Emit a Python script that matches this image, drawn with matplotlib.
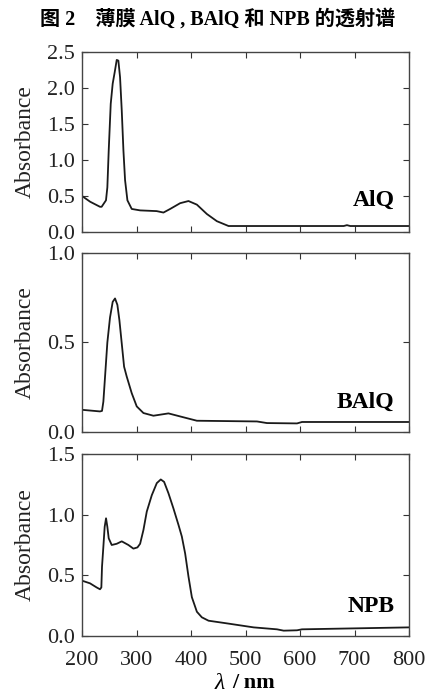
import matplotlib
matplotlib.use("Agg")
import matplotlib.pyplot as plt

# Absorbance spectra of AlQ, BAlQ and NPB thin films (wavelength in nm)
alq_wl = [200, 215, 233, 236, 244, 246.5, 249, 252.7, 256.3, 260, 263.7, 266.7,
          269.8, 272.9, 276, 279, 283.3, 291.2, 306.6, 337, 349.4, 361.7, 380,
          395.3, 410.7, 429, 447.4, 468.8, 600, 680, 686, 692, 800]
alq_abs = [0.50, 0.42, 0.35, 0.35, 0.44, 0.62, 1.13, 1.78, 2.06, 2.22, 2.39, 2.38,
           2.15, 1.69, 1.13, 0.72, 0.44, 0.32, 0.30, 0.29, 0.27, 0.32, 0.40,
           0.43, 0.38, 0.25, 0.15, 0.083, 0.083, 0.083, 0.095, 0.083, 0.083]

balq_wl = [200, 233, 236.7, 239.2, 242.3, 246.5, 251.4, 256.3, 260.6, 264.9, 268.6,
           272.9, 277.2, 282, 291.2, 300.4, 312.7, 331, 358.6, 380, 410.7, 520.9,
           539.2, 594.4, 603.5, 800]
balq_abs = [0.124, 0.115, 0.118, 0.17, 0.31, 0.50, 0.64, 0.727, 0.746, 0.71, 0.625,
            0.495, 0.365, 0.31, 0.217, 0.143, 0.106, 0.091, 0.104, 0.087, 0.063,
            0.059, 0.05, 0.048, 0.056, 0.056]

npb_wl = [200, 214.7, 226.9, 233, 235.5, 236.7, 239.2, 241.6, 244.1, 246.5, 249,
          254.5, 263.7, 272.9, 285.1, 294.3, 301.7, 306.6, 312.7, 318.8, 328, 337.2,
          344.5, 350.6, 358.6, 367.8, 377, 383.1, 389.2, 395.3, 401.5, 410.7, 419.8,
          432.1, 465.8, 514.8, 557.6, 569.9, 594.4, 603.5, 800]
npb_abs = [0.456, 0.434, 0.40, 0.385, 0.40, 0.57, 0.736, 0.90, 0.97, 0.90, 0.805,
           0.75, 0.76, 0.78, 0.75, 0.72, 0.73, 0.76, 0.874, 1.025, 1.16, 1.26,
           1.29, 1.27, 1.176, 1.05, 0.915, 0.82, 0.68, 0.49, 0.32, 0.20, 0.154,
           0.126, 0.104, 0.071, 0.055, 0.044, 0.047, 0.055, 0.071]

names = ["AlQ", "BAlQ", "NPB"]
ylims = [(0, 2.5), (0, 1.0), (0, 1.5)]
yticks = [[0.0, 0.5, 1.0, 1.5, 2.0, 2.5], [0.0, 0.5, 1.0], [0.0, 0.5, 1.0, 1.5]]
xticks = [200, 300, 400, 500, 600, 700, 800]

serif = "Liberation Serif"
fig = plt.figure(figsize=(4.35, 6.95), dpi=100)

# axes boxes in figure fractions: left, bottom, width, height
boxes = [[0.1885, 0.6662, 0.752, 0.259],
         [0.1885, 0.3784, 0.752, 0.2576],
         [0.1885, 0.0849, 0.752, 0.2619]]
label_y = [0.178, 0.168, 0.16]
curves = [(alq_wl, alq_abs), (balq_wl, balq_abs), (npb_wl, npb_abs)]

for i, (wl, ab) in enumerate(curves):
    ax = fig.add_axes(boxes[i])
    ax.plot(wl, ab, color="#1a1a1a", lw=1.3)
    ax.set_xlim(200, 800)
    ax.set_ylim(*ylims[i])
    ax.set_xticks(xticks)
    ax.set_yticks(yticks[i])
    ax.set_yticklabels([f"{v:.1f}" for v in yticks[i]], fontfamily=serif, fontsize=16)
    ax.tick_params(direction="in", top=True, right=True, length=4, width=0.8,
                   colors="#333333", labelcolor="#222222")
    ax.tick_params(axis="y", pad=5)
    if i < 2:
        ax.set_xticklabels([])
    else:
        ax.set_xticklabels([str(v) for v in xticks], fontfamily=serif, fontsize=16)
        ax.tick_params(axis="x", pad=11)
    for s in ax.spines.values():
        s.set_color("#444444")
        s.set_linewidth(1.0)
    ax.set_ylabel("Absorbance", fontfamily=serif, fontsize=17, color="#222222",
                  labelpad=8)
    ax.text(0.955, label_y[i], names[i], transform=ax.transAxes, ha="right",
            va="center", fontfamily=serif, fontweight="bold", fontsize=17)

# x axis label: italic lambda followed by the unit
fig.text(0.516, 0.017, "λ", fontfamily=serif, fontstyle="italic", fontsize=17,
         ha="right", va="center")
fig.text(0.533, 0.017, "/ nm", fontfamily=serif, fontweight="bold", fontsize=16,
         ha="left", va="center")

fig.text(0.5, 0.973, "图 2　薄膜 AlQ , BAlQ 和 NPB 的透射谱",
         family=[serif, "Noto Sans CJK SC"], fontweight="bold", fontsize=14.5,
         ha="center", va="center")

fig.savefig("out.png", dpi=100)
